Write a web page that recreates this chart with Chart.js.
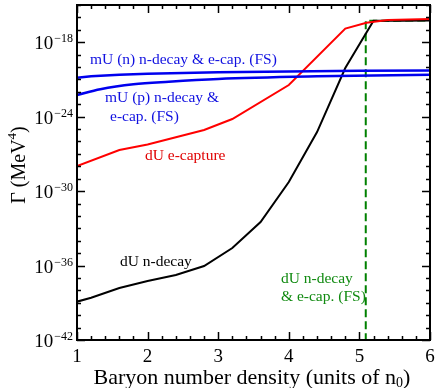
<!DOCTYPE html>
<html>
<head>
<meta charset="utf-8">
<script src="https://cdn.jsdelivr.net/npm/chart.js@4.4.1/dist/chart.umd.min.js"></script>
<style>
  html, body { margin: 0; padding: 0; background: #fff; }
  #wrap { width: 436px; height: 388px; }
</style>
</head>
<body>
<div id="wrap"><canvas id="gammaChart"></canvas></div>
<script>
// densities in units of n0, rates as log10(Gamma / MeV^4)
const mUnX = [1.0, 1.2, 1.6, 2.0, 3.0, 4.0, 5.0, 6.0];
const mUnExp = [-20.86, -20.74, -20.62, -20.55, -20.42, -20.35, -20.3, -20.27];

const mUpX = [1.0, 1.33, 1.8, 2.3, 3.0, 4.4, 6.0];
const mUpExp = [-22.25, -21.79, -21.39, -21.18, -20.96, -20.75, -20.62];

const eCapX = [1.0, 1.6, 2.0, 2.4, 2.8, 3.2, 4.0, 4.8, 5.1, 5.4, 6.0];
const eCapExp = [-27.98, -26.69, -26.25, -25.66, -25.07, -24.19, -21.45, -16.9, -16.43, -16.2, -16.13];

const nDecayX = [1.0, 1.2, 1.6, 2.0, 2.4, 2.8, 3.2, 3.6, 4.0, 4.4, 4.8, 5.2, 5.6, 6.0];
const nDecayExp = [-38.91, -38.6, -37.81, -37.25, -36.76, -36.04, -34.59, -32.49, -29.27, -25.24, -20.08, -16.27, -16.26, -16.25];

const fsX = [5.09, 5.09, 6.0];
const fsExp = [-45, -16.27, -16.25];

const xMajor = [1, 2, 3, 4, 5, 6];
const yMajorExp = [-42, -36, -30, -24, -18];

const serif = "'Liberation Serif', 'DejaVu Serif', serif";

function pts(xs, es) {
  return xs.map((x, i) => ({ x: x, y: Math.pow(10, es[i]) }));
}

// frame, inward ticks, tick labels, titles and curve labels
const decorations = {
  id: 'decorations',
  afterDraw(chart) {
    const { ctx, chartArea: a, scales } = chart;
    const xs = scales.x, ys = scales.y;
    ctx.save();
    ctx.strokeStyle = '#000';
    ctx.lineWidth = 1.5;

    // x ticks, top and bottom
    for (let k = 0; k <= 25; k++) {
      const v = 1 + k * 0.2;
      const px = Math.round(xs.getPixelForValue(v)) + 0.5;
      const len = k % 5 === 0 ? 8 : 4;
      ctx.beginPath();
      ctx.moveTo(px, a.bottom); ctx.lineTo(px, a.bottom - len);
      ctx.moveTo(px, a.top); ctx.lineTo(px, a.top + len);
      ctx.stroke();
    }
    // y ticks, left and right
    for (let e = -42; e <= -15; e++) {
      const py = Math.round(ys.getPixelForValue(Math.pow(10, e))) + 0.5;
      const len = (e + 42) % 6 === 0 ? 8 : 4;
      ctx.beginPath();
      ctx.moveTo(a.left, py); ctx.lineTo(a.left + len, py);
      ctx.moveTo(a.right, py); ctx.lineTo(a.right - len, py);
      ctx.stroke();
    }
    // frame
    ctx.lineWidth = 2;
    ctx.strokeRect(a.left, a.top, a.right - a.left, a.bottom - a.top);

    ctx.fillStyle = '#000';
    // x tick labels
    ctx.font = '19px ' + serif;
    ctx.textAlign = 'center';
    ctx.textBaseline = 'alphabetic';
    xMajor.forEach(v => ctx.fillText(String(v), xs.getPixelForValue(v), 362));

    // y tick labels 10^e
    yMajorExp.forEach(e => {
      const py = ys.getPixelForValue(Math.pow(10, e));
      const sup = '\u2212' + Math.abs(e);
      ctx.font = '12px ' + serif;
      ctx.textAlign = 'right';
      ctx.fillText(sup, 73, py);
      const w = ctx.measureText(sup).width;
      ctx.font = '19px ' + serif;
      ctx.fillText('10', 73 - w - 1, py + 7);
    });

    // x title with subscript
    ctx.textAlign = 'left';
    const t1 = 'Baryon number density (units of n';
    ctx.font = '22px ' + serif;
    const w1 = ctx.measureText(t1).width;
    ctx.font = '14px ' + serif;
    const w2 = ctx.measureText('0').width;
    ctx.font = '22px ' + serif;
    const w3 = ctx.measureText(')').width;
    let sx = 252 - (w1 + w2 + w3) / 2;
    ctx.fillText(t1, sx, 384);
    ctx.font = '14px ' + serif;
    ctx.fillText('0', sx + w1, 387);
    ctx.font = '22px ' + serif;
    ctx.fillText(')', sx + w1 + w2, 384);

    // y title, rotated
    ctx.save();
    ctx.translate(25, 165);
    ctx.rotate(-Math.PI / 2);
    const y1 = '\u0393 (MeV';
    ctx.font = '20px ' + serif;
    const yw1 = ctx.measureText(y1).width;
    ctx.font = '13px ' + serif;
    const yw2 = ctx.measureText('4').width;
    ctx.font = '20px ' + serif;
    const yw3 = ctx.measureText(')').width;
    let sy = -(yw1 + yw2 + yw3) / 2;
    ctx.fillText(y1, sy, 0);
    ctx.font = '13px ' + serif;
    ctx.fillText('4', sy + yw1, -9);
    ctx.font = '20px ' + serif;
    ctx.fillText(')', sy + yw1 + yw2, 0);
    ctx.restore();

    // curve labels
    ctx.font = '15.5px ' + serif;
    ctx.textAlign = 'left';
    ctx.textBaseline = 'middle';
    ctx.fillStyle = '#1010e0';
    ctx.fillText('mU (n) n-decay & e-cap. (FS)', 90, 60);
    ctx.fillText('mU (p) n-decay &', 105, 98);
    ctx.fillText('e-cap. (FS)', 110, 117);
    ctx.fillStyle = '#e00000';
    ctx.fillText('dU e-capture', 145, 156);
    ctx.fillStyle = '#000';
    ctx.fillText('dU n-decay', 120, 262);
    ctx.fillStyle = '#108a10';
    ctx.fillText('dU n-decay', 281, 279);
    ctx.fillText('& e-cap. (FS)', 281, 297);
    ctx.restore();
  }
};

new Chart(document.getElementById('gammaChart').getContext('2d'), {
  type: 'line',
  data: {
    datasets: [
      { label: 'mU (n)', data: pts(mUnX, mUnExp), borderColor: '#0000ee', borderWidth: 2.5 },
      { label: 'mU (p)', data: pts(mUpX, mUpExp), borderColor: '#0000ee', borderWidth: 2.5, cubicInterpolationMode: 'monotone' },
      { label: 'dU e-capture', data: pts(eCapX, eCapExp), borderColor: '#ff0000', borderWidth: 2 },
      { label: 'dU n-decay', data: pts(nDecayX, nDecayExp), borderColor: '#000000', borderWidth: 2 },
      { label: 'dU FS', data: pts(fsX, fsExp), borderColor: '#008000', borderWidth: 2, borderDash: [8, 4] },
    ],
  },
  options: {
    responsive: true, maintainAspectRatio: false, animation: false,
    layout: { padding: { left: 77, right: 6, top: 5, bottom: 48 } },
    elements: { point: { radius: 0 }, line: { tension: 0, fill: false } },
    plugins: { legend: { display: false }, tooltip: { enabled: false } },
    scales: {
      x: { type: 'linear', min: 1, max: 6, display: false },
      y: { type: 'logarithmic', min: 1e-42, max: 1e-15, display: false },
    },
  },
  plugins: [decorations],
});
</script>
</body>
</html>
